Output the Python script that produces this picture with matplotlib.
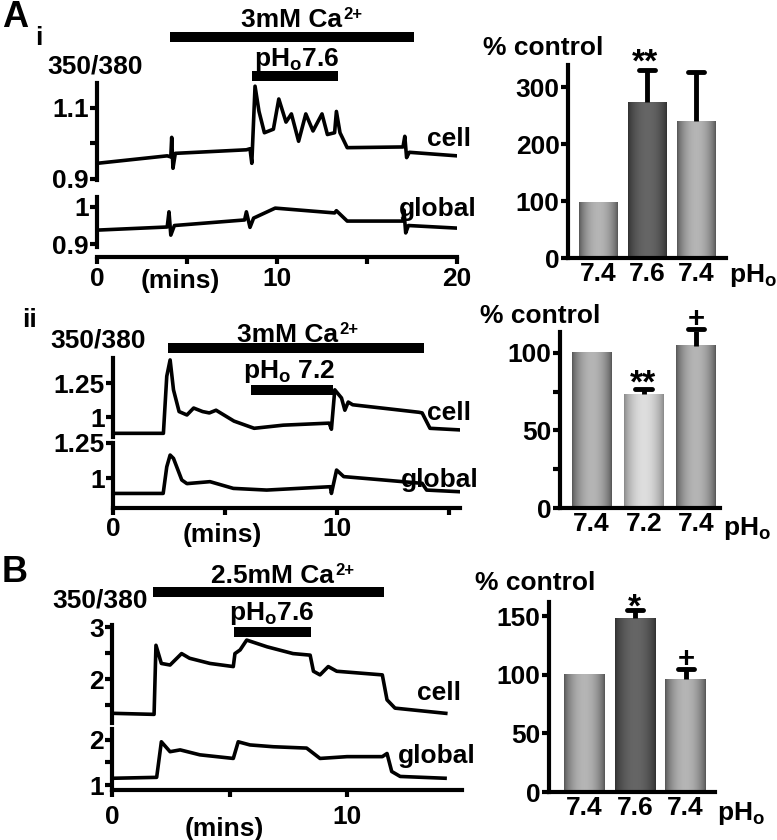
import matplotlib
matplotlib.use('Agg')
import matplotlib.pyplot as plt
import numpy as np

plt.rcParams['font.family'] = ['Liberation Sans', 'DejaVu Sans']
plt.rcParams['font.weight'] = 'bold'
plt.rcParams['mathtext.fontset'] = 'custom'
for k in ['rm', 'it', 'bf', 'sf']:
    plt.rcParams['mathtext.' + k] = 'Liberation Sans:bold'

# ---- Panel A i: 350/380 traces (time in mins) ----
ai_cell_t = [0.2, 3.9, 4.1, 4.15, 4.22, 4.35, 8.3, 8.5, 8.6, 8.78, 9.0, 9.3, 9.8, 10.1, 10.5,
             10.8, 11.2, 11.6, 12.0, 12.5, 12.8, 13.2, 13.3, 13.5, 13.9, 17.0, 17.1, 17.2, 17.35, 20.0]
ai_cell_v = [0.945, 0.965, 0.962, 1.017, 0.93, 0.972, 0.982, 0.985, 0.944, 1.161, 1.09, 1.03, 1.04,
             1.125, 1.06, 1.083, 1.006, 1.083, 1.035, 1.083, 1.025, 1.03, 1.09, 1.03, 0.988,
             0.99, 1.02, 0.96, 0.975, 0.965]
ai_glob_t = [0.2, 3.9, 4.0, 4.1, 4.3, 8.2, 8.3, 8.5, 8.7, 9.9, 13.2, 13.3, 13.9, 17.0, 17.05,
             17.15, 17.3, 20.0]
ai_glob_v = [0.938, 0.946, 0.987, 0.924, 0.95, 0.965, 0.987, 0.945, 0.97, 0.997, 0.984, 0.99,
             0.962, 0.962, 0.992, 0.93, 0.95, 0.943]
ai_ca = [4.06, 17.6]
ai_ph = [8.6, 13.4]

# ---- Panel A ii ----
aii_cell_t = [0.1, 2.25, 2.4, 2.55, 2.7, 2.95, 3.3, 3.6, 4.0, 4.3, 4.6, 5.4, 6.3, 7.6, 9.65,
              9.75, 9.9, 10.2, 10.35, 10.5, 10.7, 12.1, 13.65, 13.8, 14.15, 15.5]
aii_cell_v = [0.88, 0.88, 1.30, 1.42, 1.20, 1.04, 1.015, 1.066, 1.04, 1.03, 1.05, 0.97, 0.917,
              0.94, 0.955, 0.91, 1.20, 1.14, 1.05, 1.11, 1.09, 1.064, 1.035, 1.03, 0.917, 0.905]
aii_glob_t = [0.1, 2.24, 2.4, 2.55, 2.7, 3.07, 3.3, 4.33, 5.37, 6.86, 9.7, 9.75, 9.98, 10.3,
              12.07, 13.8, 14.0, 15.5]
aii_glob_v = [0.89, 0.89, 1.08, 1.164, 1.14, 0.986, 0.96, 0.974, 0.926, 0.914, 0.938, 0.89,
              1.057, 1.01, 0.986, 0.962, 0.914, 0.902]
aii_ca = [2.46, 13.9]
aii_ph = [6.15, 9.8]

# ---- Panel B ----
b_cell_t = [0.06, 1.79, 1.87, 2.1, 2.47, 2.96, 3.3, 4.17, 5.16, 5.23, 5.45, 5.73, 6.6, 7.7,
            8.43, 8.57, 8.85, 9.2, 9.56, 11.5, 11.7, 12.04, 14.2]
b_cell_v = [1.34, 1.32, 2.65, 2.30, 2.27, 2.49, 2.40, 2.30, 2.24, 2.49, 2.56, 2.75, 2.62, 2.49,
            2.46, 2.15, 2.08, 2.24, 2.15, 2.08, 1.60, 1.44, 1.34]
b_glob_t = [0.06, 1.9, 2.1, 2.47, 2.9, 3.74, 5.16, 5.37, 5.87, 6.86, 8.28, 8.85, 10.0, 11.5,
            11.7, 11.9, 12.26, 14.17]
b_glob_v = [1.15, 1.17, 1.96, 1.74, 1.78, 1.67, 1.59, 1.96, 1.89, 1.85, 1.82, 1.59, 1.63, 1.63,
            1.70, 1.30, 1.19, 1.15]
b_ca = [1.74, 11.57]
b_ph = [5.2, 8.47]

# ---- Bar charts (% control) ----
ph_labels_ai = ['7.4', '7.6', '7.4']
ai_bar = [97, 273, 240]
ai_err = [0, 57, 86]
ph_labels_aii = ['7.4', '7.2', '7.4']
aii_bar = [100, 73.5, 104.5]
aii_err = [0, 3.5, 11]
ph_labels_b = ['7.4', '7.6', '7.4']
b_bar = [100, 148, 96]
b_err = [0, 7.5, 9]

W, H = 777, 840
FS = 19
fig = plt.figure(figsize=(W / 100, H / 100), dpi=100)


def rect(x0, y0, x1, y1):
    return [x0 / W, 1 - y1 / H, (x1 - x0) / W, (y1 - y0) / H]


def ftext(x, y, s, size=FS, ha='center', va='baseline'):
    return fig.text(x / W, 1 - y / H, s, fontsize=size, ha=ha, va=va, fontweight='bold')


def ca_label(x, y, conc):
    # "<conc>mM Ca" followed by a small raised "2+"
    t = ftext(x, y, conc + 'mM Ca', ha='right')
    fig.canvas.draw()
    bb = t.get_window_extent()
    fig.text(bb.x1 / W + 1 / W, 1 - (y - 8) / H, '2+', fontsize=12, ha='left',
             va='baseline', fontweight='bold')


def trace_ax(box, xlim, ylim, major, labels, minor=()):
    ax = fig.add_axes(rect(*box))
    ax.set_xlim(xlim)
    ax.set_ylim(ylim)
    for s in ['top', 'right', 'bottom']:
        ax.spines[s].set_visible(False)
    ax.spines['left'].set_linewidth(3)
    ax.set_yticks(major)
    ax.set_yticklabels(labels)
    ax.set_yticks(list(minor), minor=True)
    ax.tick_params(axis='y', which='both', direction='out', length=5, width=3, pad=1, labelsize=FS)
    ax.set_xticks([])
    ax.patch.set_alpha(0)
    return ax


def bottom_axis(ax, ticks, labels, offset, pad):
    ax.spines['bottom'].set_visible(True)
    ax.spines['bottom'].set_linewidth(3)
    ax.spines['bottom'].set_position(('outward', offset))
    ax.set_xticks(ticks)
    ax.set_xticklabels(labels)
    ax.tick_params(axis='x', direction='out', length=5, width=3, pad=pad, labelsize=FS)


def sol_bar(ax, span, ypx, box):
    yf = (box[3] - ypx) / (box[3] - box[1])
    ax.plot(span, [yf, yf], transform=ax.get_xaxis_transform(), color='black', lw=7.2,
            solid_capstyle='butt', clip_on=False)


def shade(edge, center):
    u = np.linspace(0, 1, 80)
    prof = np.sin(np.pi * u) ** 0.7
    g = edge + (center - edge) * prof
    return np.dstack([g, g, g])


def bar_panel(box, vals, errs, labels, xlim, ylim, yticks, minor, width, shades):
    ax = fig.add_axes(rect(*box))
    x = np.arange(len(vals))
    bars = ax.bar(x, vals, width=width, color='0.6', zorder=1)
    for b, (e, c) in zip(bars, shades):
        x0, y0 = b.get_x(), b.get_y()
        ax.imshow(shade(e, c), extent=[x0, x0 + b.get_width(), y0, y0 + b.get_height()],
                  aspect='auto', interpolation='bilinear', zorder=2)
    # upper-only error bars with a cap
    cap = 0.16
    for i in x:
        if errs[i] > 0:
            top = vals[i] + errs[i]
            ax.plot([i, i], [vals[i], top], color='black', lw=3.5, solid_capstyle='butt', zorder=3)
            ax.plot([i - cap, i + cap], [top, top], color='black', lw=3.5,
                    solid_capstyle='round', zorder=3, clip_on=False)
    ax.set_xlim(xlim)
    ax.set_ylim(ylim)
    for s in ['top', 'right']:
        ax.spines[s].set_visible(False)
    for s in ['left', 'bottom']:
        ax.spines[s].set_linewidth(3)
    ax.set_yticks(yticks)
    ax.set_yticks(minor, minor=True)
    ax.set_xticks(x)
    ax.set_xticklabels(labels)
    ax.tick_params(axis='y', which='both', direction='out', length=5, width=3, pad=1, labelsize=FS)
    ax.tick_params(axis='x', length=0, pad=3, labelsize=FS)
    ax.patch.set_alpha(0)
    return ax


light = (0.33, 0.71)
dark = (0.19, 0.40)
pale = (0.53, 0.87)
LW = 2.6

# ================= A i =================
box_c = (97, 83, 457, 180)
box_g = (97, 197, 457, 247)
ax = trace_ax(box_c, (0, 20), (0.897, 1.17), [0.9, 1.0, 1.1], ['0.9', '', '1.1'])
ax.plot(ai_cell_t, ai_cell_v, color='black', lw=LW)
sol_bar(ax, ai_ca, 37, box_c)
sol_bar(ax, ai_ph, 76, box_c)
axg = trace_ax(box_g, (0, 20), (0.892, 1.027), [0.9, 1.0], ['0.9', '1'])
axg.plot(ai_glob_t, ai_glob_v, color='black', lw=LW)
bottom_axis(axg, [0, 5, 10, 15, 20], ['0', '', '10', '', '20'], 7, 2.5)

ftext(2, 27, 'A', size=26, ha='left')
ftext(35, 45, 'i', ha='left')
ftext(95, 73, '350/380')
ca_label(342, 27, '3')
ftext(297, 66, r'pH$_{o}$7.6')
ftext(471, 146, 'cell', ha='right')
ftext(477, 216, 'global', ha='right')
ftext(180, 288, '(mins)')

bar_panel((568, 65, 726, 258), ai_bar, ai_err, ph_labels_ai, (-0.612, 2.612), (0, 338.6),
          [0, 100, 200, 300], [], 0.776, [light, dark, light])
ftext(483, 55, '% control', ha='left')
ftext(729, 282, r'pH$_{o}$', ha='left')
ftext(645, 63, '**', size=24, va='center')

# ================= A ii =================
box_c = (113, 358, 460, 437)
box_g = (113, 443, 460, 508)
ax = trace_ax(box_c, (0, 15.49), (0.853, 1.434), [1.0, 1.25], ['1', '1.25'])
ax.plot(aii_cell_t, aii_cell_v, color='black', lw=LW)
sol_bar(ax, aii_ca, 348, box_c)
sol_bar(ax, aii_ph, 390, box_c)
axg = trace_ax(box_g, (0, 15.49), (0.786, 1.25), [1.0, 1.25], ['1', '1.25'])
axg.plot(aii_glob_t, aii_glob_v, color='black', lw=LW)
bottom_axis(axg, [0, 5, 10, 15], ['0', '', '10', ''], 0, 1.5)

ftext(22, 327, 'ii', ha='left')
ftext(98, 347, '350/380')
ca_label(338, 342, '3')
ftext(289, 378, r'pH$_{o}$ 7.2')
ftext(471, 420, 'cell', ha='right')
ftext(479, 487, 'global', ha='right')
ftext(222, 542, '(mins)')

bar_panel((560, 332, 720, 508), aii_bar, aii_err, ph_labels_aii, (-0.606, 2.46), (0, 113.5),
          [0, 50, 100], [25, 75], 0.75, [light, pale, light])
ftext(480, 323, '% control', ha='left')
ftext(723, 535, r'pH$_{o}$', ha='left')
ftext(643, 384, '**', size=24, va='center')
ftext(696, 319, '+', size=21, va='center')

# ================= B =================
box_c = (112, 625, 462, 723)
box_g = (112, 729, 462, 790)
ax = trace_ax(box_c, (0, 14.89), (1.154, 3.04), [2, 3], ['2', '3'], [1.5, 2.5])
ax.plot(b_cell_t, b_cell_v, color='black', lw=LW)
sol_bar(ax, b_ca, 592, box_c)
sol_bar(ax, b_ph, 632, box_c)
axg = trace_ax(box_g, (0, 14.89), (0.889, 2.244), [1, 2], ['1', '2'], [1.5])
axg.plot(b_glob_t, b_glob_v, color='black', lw=LW)
bottom_axis(axg, [0, 5, 10], ['0', '', '10'], 0, 6)

ftext(2, 582, 'B', size=26, ha='left')
ftext(100, 608, '350/380')
ca_label(334, 583, '2.5')
ftext(272, 620, r'pH$_{o}$7.6')
ftext(461, 700, 'cell', ha='right')
ftext(476, 763, 'global', ha='right')
ftext(224, 836, '(mins)')

bar_panel((549, 602, 715, 792), b_bar, b_err, ph_labels_b, (-0.70, 2.58), (0, 162),
          [0, 50, 100, 150], [], 0.81, [light, dark, light])
ftext(475, 590, '% control', ha='left')
ftext(717, 820, r'pH$_{o}$', ha='left')
ftext(634, 608, '*', size=24, va='center')
ftext(686, 659, '+', size=21, va='center')

fig.savefig('out.png', dpi=100)
